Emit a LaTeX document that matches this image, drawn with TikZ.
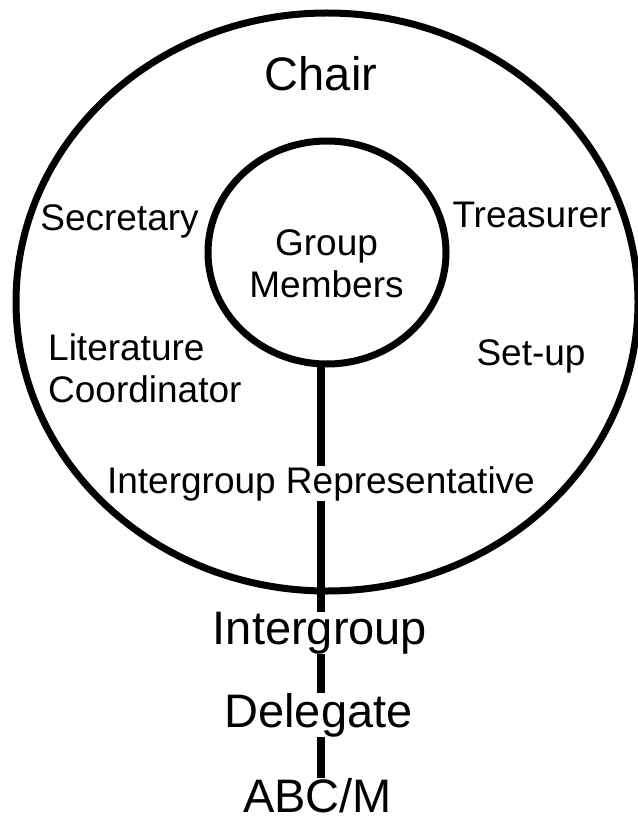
\documentclass[tikz,border=0pt]{standalone}
\usepackage{fontspec}
\setmainfont{Liberation Sans}
\pgfdeclarelayer{background}
\pgfsetlayers{background,main}
\begin{document}
\begin{tikzpicture}[x=1pt,y=-1pt,
  small/.style={font=\fontsize{37}{42}\selectfont, inner sep=0pt},
  big/.style={font=\fontsize{47}{54}\selectfont, inner sep=0pt},
  mask/.style={fill=white},
  ring/.style={line width=7pt},
  link/.style={line width=7.5pt}]
\useasboundingbox (0,0) rectangle (637,818);
\draw[ring] (327,302) ellipse [x radius=311, y radius=289];
\draw[ring] (327,252.5) ellipse [x radius=119, y radius=111.5];
\node[big, anchor=base] (chair) at (321,91) {Chair};
\node[small, anchor=base] (sec) at (119.5,230) {Secretary};
\node[small, anchor=base] (tre) at (532,228) {Treasurer};
\node[small, anchor=base, align=center] (gm) at (326.5,297) {Group\\Members};
\node[small, anchor=base west, align=left] (lit) at (48,402) {Literature\\Coordinator};
\node[small, anchor=base] (setup) at (531,365) {Set-up};
\node[small, mask, anchor=base] (rep) at (321,493) {Intergroup Representative};
\node[big, mask, anchor=base] (ig) at (320,644) {Intergroup};
\node[big, mask, anchor=base] (del) at (318.5,727) {Delegate};
\node[big, mask, anchor=base] (abc) at (317.5,812) {ABC/M};
\coordinate (ltop) at (321,362);
\begin{pgfonlayer}{background}
\draw[link] (ltop) -- (ltop |- abc.north);
\end{pgfonlayer}
\end{tikzpicture}
\end{document}
